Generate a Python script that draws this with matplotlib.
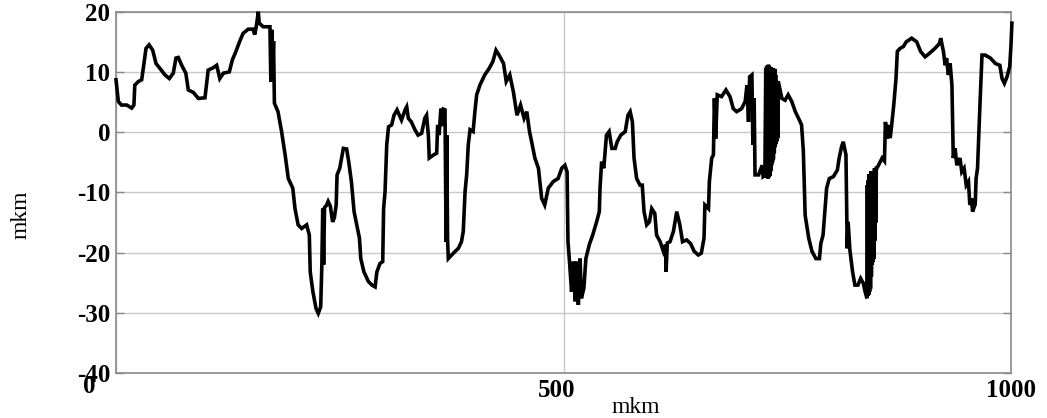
import matplotlib
matplotlib.use("Agg")
import matplotlib.pyplot as plt
from matplotlib.transforms import ScaledTranslation
from matplotlib.font_manager import FontProperties

x_mkm = [0, 2.6, 6, 12, 17.5, 20, 21, 25, 28.7, 30.5, 33.5, 37, 41, 44.7, 49, 54.7, 59.6, 64, 67, 69.6,
         73.4, 78, 80.8, 86.4, 92, 99.4, 103, 108.7, 112.5, 116, 120, 126.6, 130, 134, 138, 142, 147.8, 153, 155, 157,
         159, 160, 164.5, 172, 173, 174, 175, 176, 177, 181, 185, 189, 192.5, 197.5, 200, 203.5, 207.5, 213, 216, 217,
         220, 223.5, 226, 228.7, 230, 231, 232, 233, 235, 237, 239.5, 242, 244, 246, 247, 250, 252, 254, 257.7, 260,
         263, 266, 269, 272, 273.5, 277, 282, 286, 289.5, 291.5, 295, 298, 299, 300.6, 302.5, 304.5, 308, 310.6, 314, 319,
         323, 324.8, 326.6, 330, 334, 337.5, 341.5, 345, 347, 349, 350, 354.6, 358.3, 359.4, 361, 363, 365, 366, 367.6, 368.8,
         369.5, 370.5, 371.3, 377, 382.5, 386, 388, 390, 391.8, 393.6, 395.6, 399, 401, 403, 406.6, 412, 417, 421, 424.6, 428,
         433, 436, 440, 444, 448, 452, 456, 459, 462, 464.4, 468, 472, 475.6, 479, 483, 488.6, 494, 498, 501.6, 504,
         505, 507, 509, 511, 513, 514.8, 516.6, 518.5, 520, 522.8, 525, 528.8, 532.6, 537, 540, 540.8, 542.6, 545, 548, 551,
         554, 557.8, 560, 564, 569, 572, 574.5, 577, 578.8, 581.7, 585.5, 588, 590, 593, 596, 598.6, 602, 604, 608, 611.6,
         614, 614.6, 616, 619, 622.8, 626.5, 630, 633, 637.6, 642, 646, 650.6, 654, 657, 658, 662, 663, 665.6, 667.5, 668.6,
         670, 671.8, 676.6, 681.5, 686, 689.7, 693.5, 699, 703, 705, 706.7, 708, 710.5, 711.6, 713, 714, 718, 722, 723, 725,
         726, 726.5, 727, 727.5, 728, 728.5, 729, 729.5, 730, 730.5, 731, 731.5, 732, 732.5, 733, 733.5, 734, 734.5, 735, 735.5,
         736, 736.5, 737, 737.5, 738, 738.5, 739, 739.5, 740, 744, 747.6, 751, 755, 759,
         762.6, 766, 768, 769, 770, 774, 777.6, 782, 786, 787.5, 790, 792, 794, 797, 801.5, 806, 808, 810.7, 812.6, 815.6,
         817, 818, 820, 823, 825.6, 829, 832, 835, 837, 839, 839.5, 840, 840.5, 841, 841.5, 842, 842.5, 843, 843.5, 844,
         844.5, 845, 845.5, 846, 846.5, 847, 847.5, 848, 848.5, 849, 849.5,
         850, 852, 856, 858.6, 859.7, 861.5, 863, 865, 866.7, 869, 871.5, 873, 876, 879.7, 883, 889, 894.6, 899, 904, 909,
         915, 920, 921.5, 924.5, 926.5, 928, 930, 932, 934, 935.5, 937.5, 939.5, 943, 945, 947.6, 950, 952.5, 954, 956, 957,
         960, 961, 962.6, 965, 967.6, 971, 977, 982.6, 987.5, 990, 992.6, 995.6, 998.6, 1000, 1001]

y_mkm = [8.7, 5.1, 4.5, 4.5, 4.0, 4.5, 7.8, 8.4, 8.7, 10.6, 13.9, 14.5, 13.6, 11.4, 10.6, 9.5, 8.9, 9.8, 12.3, 12.4,
         11.1, 9.8, 7.0, 6.6, 5.6, 5.7, 10.3, 10.7, 11.1, 8.9, 9.8, 10.0, 12.0, 13.4, 15.0, 16.4, 17.1, 17.1, 16.2, 17.8,
         20.0, 18.1, 17.5, 17.5, 8.4, 17.0, 9.0, 15.1, 4.8, 3.4, 0.1, -3.8, -7.7, -9.3, -12.7, -15.4, -16.0, -15.4, -17.1, -23.2,
         -26.5, -29.3, -30.1, -29.0, -22.1, -12.7, -22.0, -12.5, -12.2, -11.5, -12.3, -14.9, -14.2, -12.1, -7.1, -6.0, -4.3, -2.7, -2.8, -4.9,
         -8.2, -13.2, -15.4, -17.6, -21.0, -23.2, -24.8, -25.4, -25.7, -23.2, -21.8, -21.5, -12.7, -9.9, -2.1, 0.9, 1.2, 2.8, 3.7, 2.0,
         3.7, 4.2, 2.3, 1.7, 0.4, -0.5, -0.2, 2.3, 2.8, -0.5, -4.3, -3.8, -3.5, 1.2, -0.5, 3.9, 1.0, 3.8, 3.7, -18.2,
         -0.5, -18.0, -21.0, -20.1, -19.3, -18.2, -16.5, -9.9, -7.1, -2.1, 0.4, 0.1, 3.4, 6.2, 7.8, 9.5, 10.6, 11.7, 13.6, 12.8,
         11.4, 8.4, 9.5, 6.7, 2.8, 4.5, 2.3, 3.4, 0.1, -1.6, -4.3, -6.0, -11.0, -12.1, -9.3, -8.2, -7.7, -6.0, -5.5, -6.6,
         -18.2, -22.1, -26.5, -21.5, -28.1, -21.5, -28.7, -21.0, -27.6, -25.9, -21.0, -18.7, -17.1, -14.9, -13.2, -9.3, -4.9, -6.0, -0.5, 0.1,
         -2.7, -2.7, -1.6, -0.5, 0.1, 2.8, 3.4, 1.7, -4.3, -7.7, -8.8, -8.8, -13.2, -15.4, -14.9, -12.7, -13.5, -17.1, -18.2, -19.8,
         -18.7, -23.2, -18.4, -18.2, -16.5, -13.2, -15.4, -18.2, -17.9, -18.5, -19.8, -20.4, -20.1, -17.6, -12.1, -12.7, -8.2, -4.3, -3.8, 5.6,
         -1.1, 6.2, 5.9, 7.0, 5.9, 3.9, 3.4, 3.9, 5.1, 7.8, 1.7, 9.2, 9.5, -2.1, 5.6, -7.1, -7.1, -5.5, -7.4, -7.2,
         10.6, -7.5, 11.0, -7.6, 11.0, -7.7, 11.2, -7.5, 11.0, -7.3, 10.8, -6.5, 10.8, -5.5, 10.6, -5.0, 10.6, -4.5, 10.5, -3.5,
         10.5, -2.5, 9.5, -2.0, 8.5, -1.5, 8.5, -1.0, 8.4, 5.6, 5.3, 6.2, 5.1, 3.4,
         2.3, 1.2, -3.2, -8.2, -13.8, -17.6, -19.8, -21.0, -21.0, -18.5, -17.1, -13.2, -9.3, -7.7, -7.4, -6.3, -4.3, -2.4, -1.6, -3.8,
         -19.3, -14.9, -19.6, -23.2, -25.4, -25.4, -24.3, -25.1, -26.5, -27.6, -8.8, -27.2, -8.0, -27.0, -7.0, -26.5, -7.0, -26.0, -6.5, -24.0,
         -6.5, -22.0, -6.5, -21.5, -6.5, -21.0, -6.0, -18.0, -6.0, -15.0, -6.0,
         -6.0, -5.5, -4.3, -4.8, 1.7, -1.1, 1.2, -1.0, 1.2, 4.5, 8.9, 13.4, 13.9, 14.2, 15.0, 15.6, 15.0, 13.4, 12.5, 13.1,
         13.9, 14.7, 15.6, 13.4, 11.1, 12.3, 9.5, 11.4, 7.8, -4.3, -2.7, -5.5, -4.3, -6.6, -6.0, -8.8, -8.2, -12.1, -11.0, -13.2,
         -12.0, -7.7, -6.0, 3.4, 12.8, 12.8, 12.3, 11.4, 11.1, 8.9, 8.1, 9.2, 10.9, 14.5, 18.1]

x_ticks = [0, 500, 1000]
x_tick_labels = ["0", "500", "1000"]
y_ticks = [-40, -30, -20, -10, 0, 10, 20]
y_tick_labels = ["-40", "-30", "-20", "-10", "0", "10", "20"]

fig = plt.figure(figsize=(10.47, 4.18), dpi=100)
ax = fig.add_axes([116 / 1047, 1 - 373 / 418, (1011 - 116) / 1047, (373 - 11.7) / 418])

ax.plot(x_mkm, y_mkm, color="black", lw=2.6, solid_joinstyle="miter", clip_on=False, zorder=3)

ax.set_xlim(0, 1000)
ax.set_ylim(-40, 20)
ax.set_xticks(x_ticks)
ax.set_xticklabels(x_tick_labels)
ax.set_yticks(y_ticks)
ax.set_yticklabels(y_tick_labels)

ax.grid(True, color="#c8c8c8", lw=1.0)
ax.set_axisbelow(True)
for s in ax.spines.values():
    s.set_color("#8a8a8a")
    s.set_linewidth(1.2)

tick_font = dict(family="Liberation Serif", weight="bold", size=18)
ax.tick_params(axis="y", direction="in", length=6, width=1, color="#8a8a8a",
               left=True, right=True, pad=4)
ax.tick_params(axis="x", length=0, pad=4)
for lab in ax.get_yticklabels():
    lab.set_fontproperties(FontProperties(**tick_font))
shifts = [(-27, 4), (-7, 0), (0, 0)]
for lab, (dx, dy) in zip(ax.get_xticklabels(), shifts):
    lab.set_fontproperties(FontProperties(**tick_font))
    lab.set_transform(lab.get_transform() + ScaledTranslation(dx / 100, dy / 100, fig.dpi_scale_trans))

fig.text(636 / 1047, 1 - 413 / 418, "mkm", family="Liberation Serif", size=17,
         ha="center", va="baseline")
fig.text(21 / 1047, 1 - 215 / 418, "mkm", family="Liberation Serif", size=17,
         ha="center", va="center", rotation=90)

fig.savefig("out.png", dpi=100)
